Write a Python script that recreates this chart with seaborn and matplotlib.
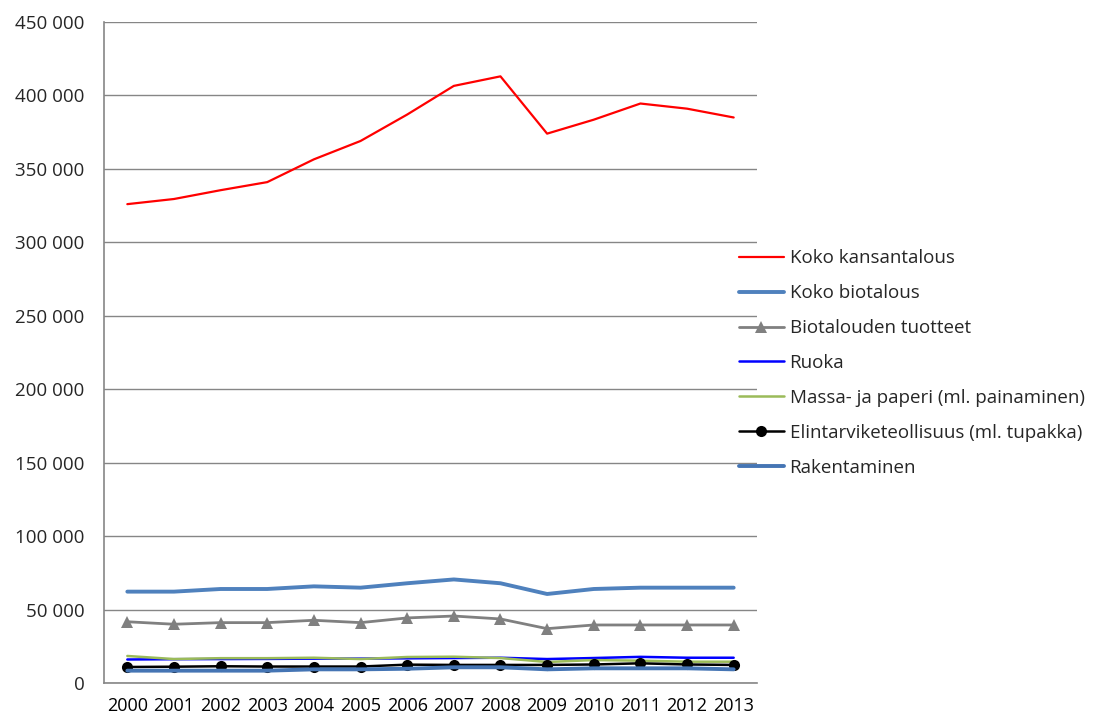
import numpy as np
import pandas as pd
import matplotlib
matplotlib.use("Agg")
import matplotlib.pyplot as plt
import seaborn as sns
from matplotlib.ticker import FuncFormatter, FixedLocator

years = list(range(2000, 2014))

koko_kansantalous = [326000, 329500, 335500, 341000, 356500, 369000, 387000, 406500,
                     413000, 374000, 383500, 394500, 391000, 385000]
koko_biotalous = [62200, 62200, 64000, 64000, 65800, 64900, 67900, 70500,
                  67900, 60600, 64000, 64900, 64900, 64900]
biotalouden_tuotteet = [41700, 40000, 41100, 41100, 42700, 41100, 44300, 45600,
                        43600, 37000, 39500, 39500, 39500, 39500]
ruoka = [16000, 16200, 16300, 16400, 16600, 16600, 16800, 17000,
         17200, 16300, 17000, 17800, 17200, 17200]
massa_paperi = [18400, 16300, 16900, 16900, 17200, 16300, 17700, 17900,
                17000, 14300, 15600, 15200, 14500, 14500]
elintarvike = [10900, 11100, 11400, 11200, 11200, 11200, 12500, 12300,
               12300, 12300, 12600, 13400, 12600, 12300]
rakentaminen = [8400, 8400, 8400, 8400, 9300, 9300, 9700, 10700,
                10700, 9300, 10000, 10000, 10000, 9300]

series = [
    ("Koko kansantalous", koko_kansantalous, dict(color="#FF0000", lw=1.6)),
    ("Koko biotalous", koko_biotalous, dict(color="#4F81BD", lw=2.8)),
    ("Biotalouden tuotteet", biotalouden_tuotteet,
     dict(color="#808080", lw=2.0, marker="^", markersize=8, markeredgewidth=0)),
    ("Ruoka", ruoka, dict(color="#0000FF", lw=1.8)),
    ("Massa- ja paperi (ml. painaminen)", massa_paperi, dict(color="#9BBB59", lw=1.8)),
    ("Elintarviketeollisuus (ml. tupakka)", elintarvike,
     dict(color="#000000", lw=1.8, marker="o", markersize=8, markeredgewidth=0)),
    ("Rakentaminen", rakentaminen, dict(color="#4575B4", lw=2.8)),
]

sns.set_style("white")
plt.rcParams["font.family"] = ["Open Sans", "DejaVu Sans"]

fig = plt.figure(figsize=(10.93, 7.16), dpi=100)
ax = fig.add_axes([104 / 1093, 1 - 683 / 716, (757 - 104) / 1093, (683 - 22) / 716])

x = np.arange(len(years))
for name, vals, style in series:
    sns.lineplot(x=x, y=vals, ax=ax, label=name, **style)

ax.set_xlim(-0.5, len(years) - 0.5)
ax.set_ylim(0, 450000)
ax.set_yticks(np.arange(0, 450001, 50000))
ax.yaxis.set_major_formatter(FuncFormatter(lambda v, p: f"{int(v):,}".replace(",", " ")))
ax.grid(axis="y", color="#868686", lw=1)
ax.set_axisbelow(True)

ax.set_xticks(x)
ax.set_xticklabels([str(y) for y in years])
ax.xaxis.set_minor_locator(FixedLocator(np.arange(-0.5, len(years), 1)))
ax.tick_params(axis="x", which="major", length=0, pad=10, labelsize=13, colors="black")
ax.tick_params(axis="x", which="minor", length=5, width=1, color="#868686", direction="out")
ax.tick_params(axis="y", length=3, width=1, color="#868686", direction="out", pad=11,
               labelsize=13.5)

for side in ["top", "right"]:
    ax.spines[side].set_visible(False)
for side in ["left", "bottom"]:
    ax.spines[side].set_color("#868686")
    ax.spines[side].set_linewidth(1.2)

ax.legend(loc="center left", bbox_to_anchor=(731 / 1093, 1 - 363 / 716),
          bbox_transform=fig.transFigure, frameon=False, fontsize=13.5,
          handlelength=2.4, handletextpad=0.32, labelspacing=0.9, borderaxespad=0)

fig.savefig("out.png", dpi=100)
